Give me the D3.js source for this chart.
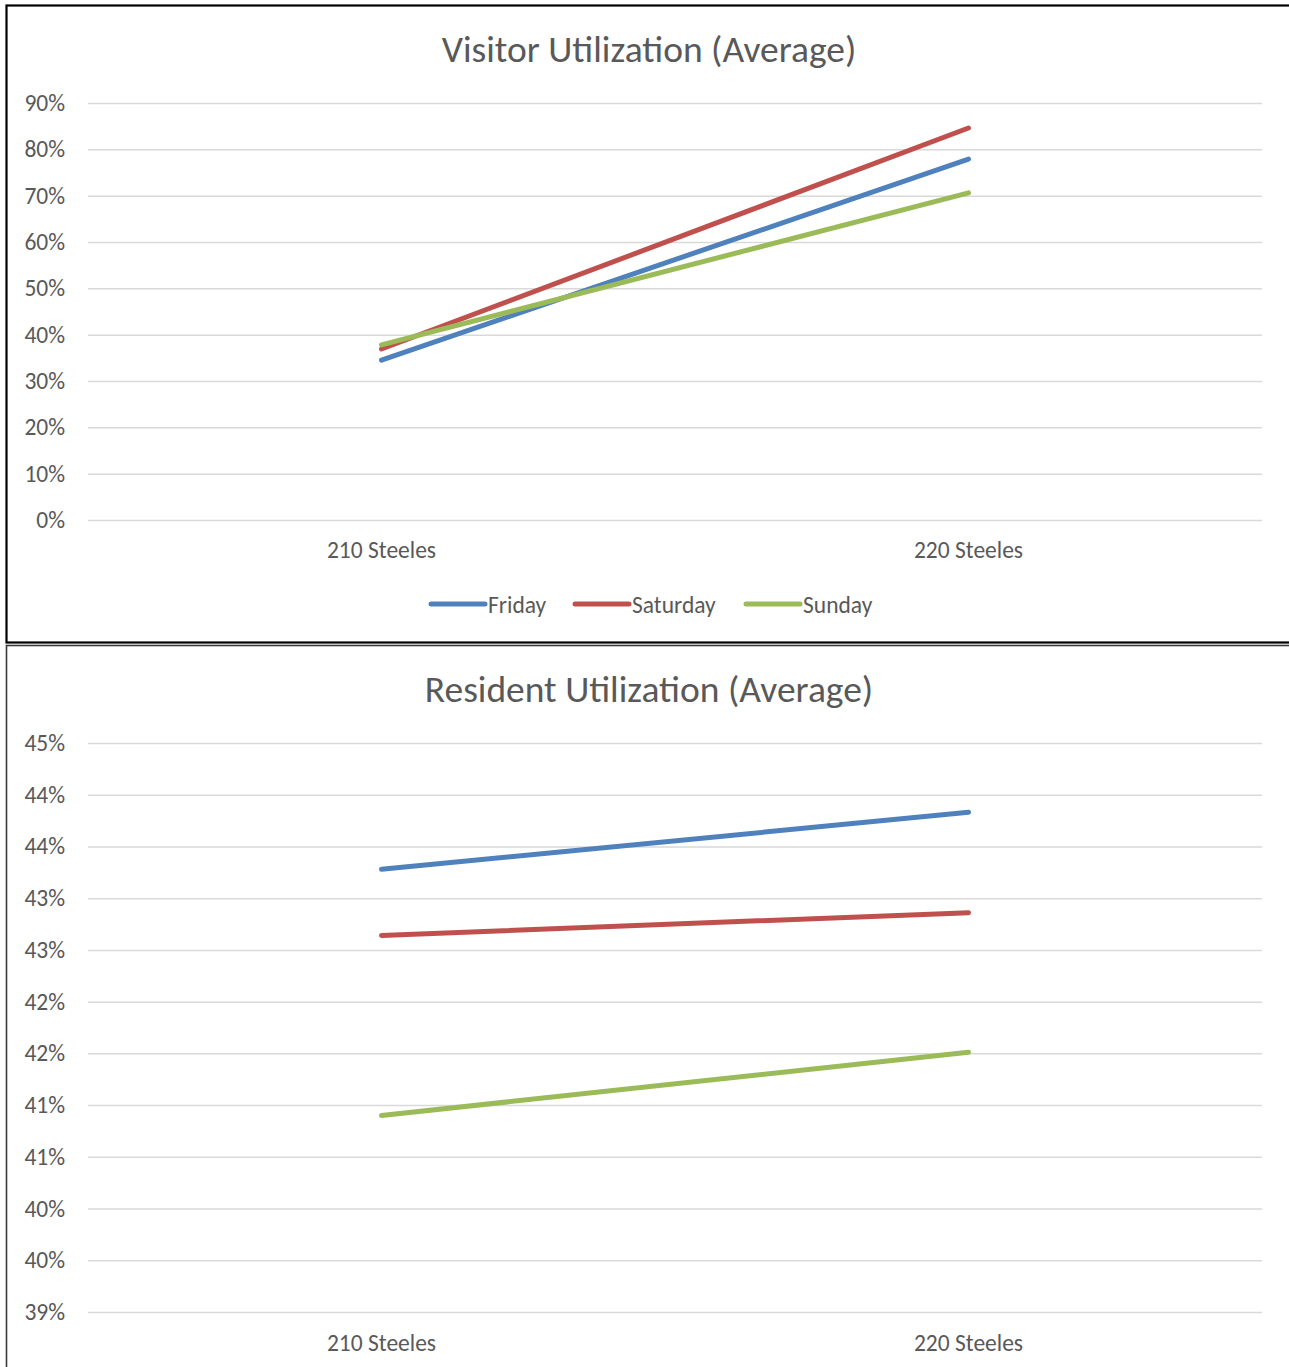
<!DOCTYPE html>
<html>
<head>
<meta charset="utf-8">
<script src="https://cdn.jsdelivr.net/npm/d3@7"></script>
<style>
  body { margin: 0; background: #fff; }
  text { font-family: Carlito, Calibri, Lato, "Open Sans", sans-serif; fill: #595959; }
</style>
</head>
<body>
<svg id="chart" width="1289" height="1367"></svg>
<script>
// data
var categories = ["210 Steeles", "220 Steeles"];
var seriesNames = ["Friday", "Saturday", "Sunday"];
var seriesColors = ["#4F81BD", "#C0504D", "#9BBB59"];

var visitorFriday   = [0.345, 0.779];
var visitorSaturday = [0.369, 0.846];
var visitorSunday   = [0.378, 0.706];
var visitorTicks = [0, 0.1, 0.2, 0.3, 0.4, 0.5, 0.6, 0.7, 0.8, 0.9];
var visitorTickLabels = ["0%", "10%", "20%", "30%", "40%", "50%", "60%", "70%", "80%", "90%"];

var residentFriday   = [0.4378, 0.4433];
var residentSaturday = [0.4314, 0.4336];
var residentSunday   = [0.4140, 0.4201];
var residentTicks = [0.395, 0.40, 0.405, 0.41, 0.415, 0.42, 0.425, 0.43, 0.435, 0.44, 0.445, 0.45];
var residentTickLabels = ["39%", "40%", "40%", "41%", "41%", "42%", "42%", "43%", "43%", "44%", "44%", "45%"];

var svg = d3.select("#chart");

// frames
svg.append("rect") // top chart
  .attr("x", 6.5).attr("y", 5.5).attr("width", 1300).attr("height", 637)
  .attr("fill", "none").attr("stroke", "#000").attr("stroke-width", 2.2);
svg.append("rect") // bottom chart
  .attr("x", 6.5).attr("y", 645.5).attr("width", 1300).attr("height", 800)
  .attr("fill", "none").attr("stroke", "#3a3a3a").attr("stroke-width", 1.6);

var drawChart = function(opts) {
  var g = svg.append("g");
  var x = d3.scaleBand().domain(categories).range([88, 1262]).padding(0);
  var y = d3.scaleLinear().domain(opts.domain).range([opts.bottom, opts.top]);

  g.append("text")
    .attr("x", 649).attr("y", opts.titleY)
    .attr("text-anchor", "middle")
    .style("font-size", "37.5px")
    .text(opts.title);

  var yAxis = g.append("g")
    .attr("transform", "translate(88,0)")
    .call(d3.axisLeft(y)
      .tickValues(opts.ticks)
      .tickSize(-1174)
      .tickPadding(23)
      .tickFormat(function(d, i) { return opts.tickLabels[i]; }));
  yAxis.select(".domain").remove();
  yAxis.selectAll("line").attr("stroke", "#D9D9D9").attr("stroke-width", 1.5);
  yAxis.selectAll("text").style("font-size", "23.5px").attr("fill", "#595959");

  g.selectAll(".cat")
    .data(categories)
    .enter().append("text")
    .attr("class", "cat")
    .attr("x", function(d) { return x(d) + x.bandwidth() / 2; })
    .attr("y", opts.catY)
    .attr("text-anchor", "middle")
    .style("font-size", "23.5px")
    .text(function(d) { return d; });

  var line = d3.line()
    .x(function(d, i) { return x(categories[i]) + x.bandwidth() / 2; })
    .y(function(d) { return y(d); });

  opts.series.forEach(function(vals, k) {
    g.append("path")
      .datum(vals)
      .attr("d", line)
      .attr("fill", "none")
      .attr("stroke", seriesColors[k])
      .attr("stroke-width", 5)
      .attr("stroke-linecap", "round");
  });
};

drawChart({
  title: "Visitor Utilization (Average)", titleY: 62,
  domain: [0, 0.9], top: 103, bottom: 520,
  ticks: visitorTicks, tickLabels: visitorTickLabels,
  catY: 558,
  series: [visitorFriday, visitorSaturday, visitorSunday]
});

drawChart({
  title: "Resident Utilization (Average)", titleY: 702,
  domain: [0.395, 0.45], top: 743, bottom: 1312,
  ticks: residentTicks, tickLabels: residentTickLabels,
  catY: 1351,
  series: [residentFriday, residentSaturday, residentSunday]
});

// legend (top chart only)
var legendX = [431, 575, 746];
var legend = svg.append("g").selectAll("g")
  .data(seriesNames)
  .enter().append("g")
  .attr("transform", function(d, i) { return "translate(" + legendX[i] + ",604)"; });
legend.append("line")
  .attr("x1", 0).attr("x2", 54).attr("y1", 0).attr("y2", 0)
  .attr("stroke", function(d, i) { return seriesColors[i]; })
  .attr("stroke-width", 5)
  .attr("stroke-linecap", "round");
legend.append("text")
  .attr("x", 57).attr("y", 8.5)
  .style("font-size", "23.5px")
  .text(function(d) { return d; });
</script>
</body>
</html>
